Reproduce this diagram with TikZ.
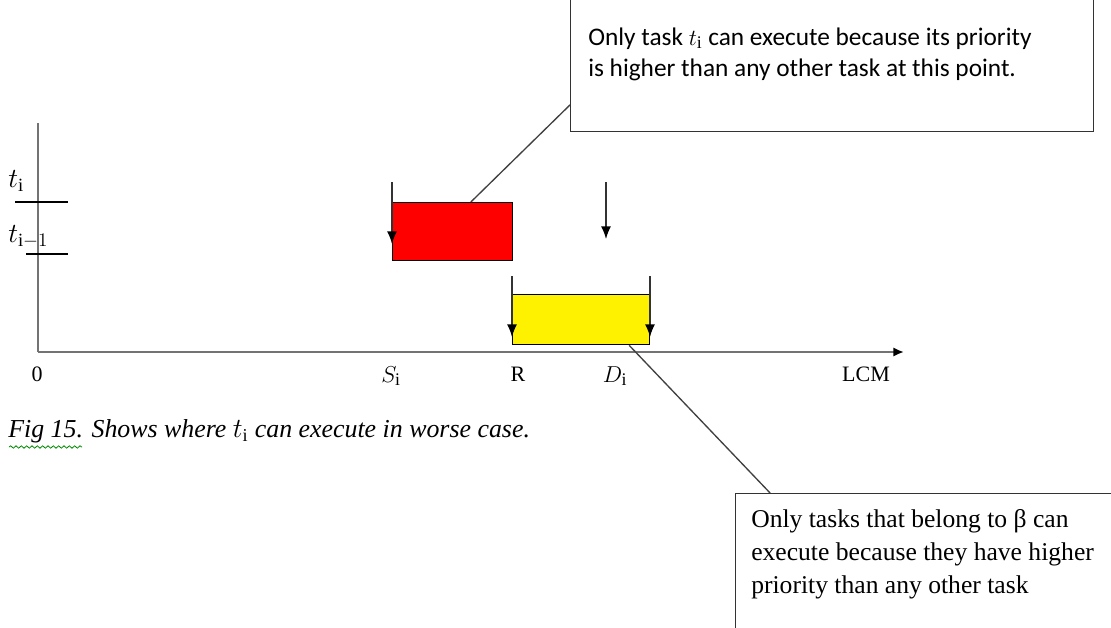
\documentclass[tikz,border=0pt]{standalone}
\usepackage{fontspec}
\setmainfont{Liberation Serif}
\newfontfamily\calloutsans{Carlito}
\usetikzlibrary{arrows.meta,decorations.pathmorphing,calc}

\begin{document}
\begin{tikzpicture}[x=0.75pt,y=-0.75pt,
  axis/.style={draw=black!55,line width=2.1pt},
  tickmark/.style={draw=black,line width=1pt},
  marker/.style={draw=black!80,line width=1pt,-{Latex[length=9.5pt,width=7.5pt,black]}},
  slot/.style={draw=black,line width=1pt,inner sep=0pt,anchor=north west},
  callout/.style={draw=black!80,line width=1pt,inner sep=0pt,anchor=north west},
  leader/.style={draw=black!75,line width=1pt},
  lbl/.style={font=\fontsize{16.5}{19}\selectfont,inner sep=0pt,anchor=base},
  mlbl/.style={font=\fontsize{19}{22}\selectfont,inner sep=0pt,anchor=base},
  sanstext/.style={font=\calloutsans\fontsize{19}{23.25}\selectfont,inner sep=0pt,anchor=base west,align=left},
  seriftext/.style={font=\fontsize{19.2}{24.4}\selectfont,inner sep=0pt,anchor=base west,align=left}]

\useasboundingbox (0,0) rectangle (1111,628);
\clip (0,0) rectangle (1111,628);

% axes
\coordinate (origin) at (38,352);
\coordinate (xend) at (904,352);
\coordinate (yend) at (38,123);
\draw[axis,-{Latex[length=8pt,width=7pt,black]}] (origin) -- (xend);
\draw[axis] (origin) -- (yend);

% priority levels on the vertical axis
\draw[tickmark] (15,202) -- (68,202);
\draw[tickmark] (26,254) -- (68,254);
\node[font=\fontsize{20}{24}\selectfont,inner sep=0pt,anchor=base west] (lblA) at (8,187) {$t_{\mathrm{i}}$};
\node[font=\fontsize{20}{24}\selectfont,inner sep=0pt,anchor=base west] (lblB) at (8,242) {$t_{\mathrm{i}-1}$};

% execution slots
\node[slot,fill=red,minimum width=90pt,minimum height=43.5pt] (redbox) at (392,202) {};
\node[slot,fill=yellow,minimum width=102.75pt,minimum height=37.5pt] (yellowbox) at (512,294) {};

% release / deadline markers
\draw[marker] (392,182) -- (392,244);
\draw[marker] (606,182) -- (606,239);
\draw[marker] (512,276) -- (512,337);
\draw[marker] (650,276) -- (650,337);

% time axis labels
\node[lbl] (l0) at (37,381) {0};
\node[mlbl] (lS) at (391,382) {$S_{\mathrm{i}}$};
\node[lbl] (lR) at (518,381) {R};
\node[mlbl] (lD) at (615,382) {$D_{\mathrm{i}}$};
\node[lbl] (lL) at (866,381) {LCM};

% caption
\node[font=\itshape\fontsize{19.4}{22}\selectfont,inner sep=0pt,anchor=base west] (caption) at (8,437)
  {Fig 15. Shows where $t_{\mathrm{i}}$ can execute in worse case.};
\draw[green!55!black,line width=0.6pt,decorate,decoration={snake,segment length=4pt,amplitude=0.9pt}] (9,447) -- (82,447);

% callout for the red slot
\node[callout,minimum width=392.25pt,minimum height=113.25pt] (box1) at (570,-20) {};
\node[sanstext] (box1text) at (588,76)
  {Only task $t_{\mathrm{i}}$ can execute because its priority\\is higher than any other task at this point.};
\draw[leader] ($(box1.north west)!0.82!(box1.south west)$) -- ($(redbox.north west)!0.65!(redbox.north east)$);

% callout for the yellow slot
\node[callout,minimum width=285pt,minimum height=112pt] (box2) at (735,493) {};
\node[seriftext] (box2text) at (751,593)
  {Only tasks that belong to β can\\execute because they have higher\\priority than any other task};
\draw[leader] ($(yellowbox.south west)!0.847!(yellowbox.south east)$) -- ($(box2.north west)!0.092!(box2.north east)$);
\end{tikzpicture}
\end{document}
